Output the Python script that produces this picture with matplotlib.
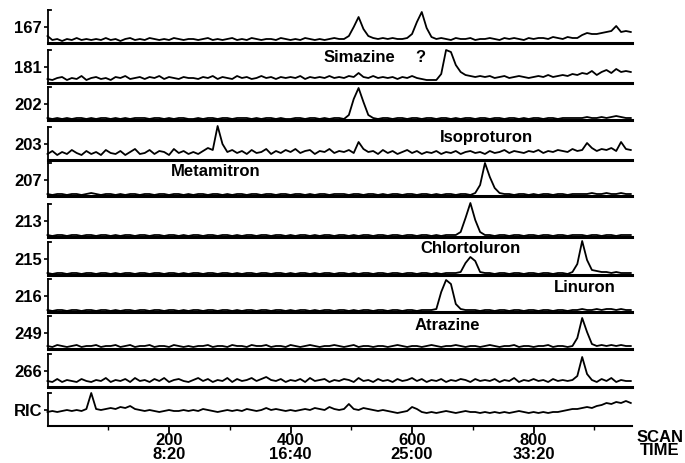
import numpy as np
import matplotlib
matplotlib.use("Agg")
import matplotlib.pyplot as plt

plt.rcParams['font.family'] = ['Liberation Sans', 'DejaVu Sans']
plt.rcParams['font.weight'] = 'bold'

# ion traces, intensity in px above panel baseline, one point every 8 scans (0..960)
panels = ['167', '181', '202', '203', '207', '213', '215', '216', '249', '266', 'RIC']

s167 = [7, 3, 4, 2, 4, 3, 5, 3, 4, 3,
        4, 3, 5, 3, 4, 2, 4, 5, 3, 4,
        3, 5, 4, 3, 4, 3, 5, 4, 3, 4,
        4, 3, 4, 5, 3, 4, 3, 4, 5, 3,
        4, 3, 5, 4, 3, 4, 4, 3, 5, 4,
        3, 4, 3, 5, 4, 3, 4, 3, 4, 5,
        4, 4, 7, 16, 26, 14, 7, 5, 4, 5,
        4, 5, 4, 4, 5, 9, 21, 31, 15, 6,
        4, 5, 4, 3, 5, 4, 4, 5, 3, 4,
        4, 5, 4, 3, 5, 4, 5, 4, 3, 5,
        4, 5, 5, 4, 6, 5, 4, 6, 5, 5,
        8, 10, 9, 9, 10, 11, 12, 17, 11, 12,
        11]

s181 = [4, 3, 5, 6, 3, 5, 4, 7, 3, 5,
        6, 4, 5, 3, 6, 5, 7, 4, 5, 6,
        4, 6, 5, 7, 4, 6, 5, 4, 6, 5,
        5, 4, 6, 5, 7, 4, 6, 5, 4, 7,
        5, 6, 4, 5, 7, 5, 6, 4, 6, 5,
        6, 5, 7, 4, 6, 5, 6, 5, 7, 5,
        6, 5, 7, 6, 10, 6, 5, 7, 5, 6,
        5, 6, 4, 6, 5, 7, 5, 4, 3, 3,
        3, 9, 33, 31, 18, 11, 8, 7, 6, 7,
        6, 7, 5, 6, 7, 5, 6, 7, 6, 5,
        6, 7, 6, 8, 6, 7, 8, 7, 9, 8,
        10, 9, 12, 8, 11, 13, 10, 14, 11, 12,
        11]

s202 = [2, 1, 2, 1, 2, 1, 2, 2, 1, 2,
        1, 2, 2, 1, 2, 1, 2, 1, 2, 2,
        2, 1, 2, 2, 1, 2, 1, 2, 2, 1,
        1, 2, 1, 2, 2, 1, 2, 2, 1, 2,
        2, 2, 1, 2, 1, 2, 2, 1, 2, 1,
        1, 2, 2, 1, 2, 2, 1, 2, 1, 2,
        2, 1, 5, 21, 32, 18, 5, 2, 1, 2,
        2, 1, 2, 2, 1, 2, 2, 1, 2, 2,
        1, 2, 2, 1, 2, 1, 2, 2, 1, 2,
        2, 1, 2, 2, 1, 2, 2, 1, 2, 1,
        2, 2, 1, 2, 2, 1, 2, 2, 2, 2,
        2, 3, 2, 2, 3, 2, 3, 4, 3, 2,
        2]

s203 = [6, 9, 5, 8, 6, 10, 7, 5, 9, 6,
        8, 5, 10, 7, 6, 9, 5, 8, 11, 6,
        7, 10, 6, 9, 8, 5, 11, 7, 9, 6,
        8, 6, 9, 12, 10, 34, 16, 8, 10, 7,
        9, 6, 10, 7, 8, 11, 6, 9, 7, 10,
        8, 11, 7, 9, 10, 6, 9, 8, 11, 7,
        9, 8, 10, 7, 18, 11, 8, 9, 6, 10,
        7, 9, 6, 8, 10, 7, 9, 6, 8, 7,
        9, 6, 8, 7, 9, 6, 8, 9, 7, 8,
        6, 9, 7, 8, 10, 7, 9, 8, 7, 9,
        8, 10, 7, 9, 8, 10, 9, 8, 11, 9,
        10, 17, 12, 9, 11, 10, 12, 9, 18, 11,
        10]

s207 = [2, 1, 2, 2, 1, 2, 2, 1, 2, 3,
        2, 1, 2, 2, 1, 2, 1, 2, 2, 1,
        2, 2, 1, 2, 2, 1, 2, 2, 1, 2,
        1, 2, 2, 1, 2, 2, 1, 2, 1, 2,
        2, 1, 2, 2, 1, 2, 2, 1, 2, 2,
        1, 2, 2, 1, 2, 1, 2, 2, 1, 2,
        2, 2, 1, 2, 2, 1, 2, 2, 1, 2,
        1, 2, 2, 1, 2, 2, 1, 2, 2, 1,
        2, 1, 2, 2, 1, 2, 2, 1, 3, 11,
        33, 19, 8, 3, 2, 2, 1, 2, 2, 1,
        2, 1, 2, 2, 1, 2, 2, 1, 2, 2,
        2, 2, 3, 2, 2, 3, 2, 2, 3, 2,
        2]

s213 = [2, 1, 2, 2, 1, 2, 2, 1, 2, 2,
        1, 2, 2, 1, 2, 1, 2, 2, 1, 2,
        2, 1, 2, 2, 1, 2, 2, 1, 2, 1,
        2, 2, 1, 2, 2, 1, 2, 2, 1, 2,
        1, 2, 2, 1, 2, 2, 1, 2, 2, 1,
        2, 1, 2, 2, 1, 2, 1, 2, 2, 1,
        2, 2, 1, 2, 1, 2, 2, 1, 2, 2,
        1, 2, 2, 1, 2, 2, 1, 2, 2, 1,
        2, 1, 2, 2, 2, 5, 19, 34, 17, 5,
        2, 2, 1, 2, 2, 1, 2, 2, 1, 2,
        2, 1, 2, 2, 1, 2, 2, 1, 2, 2,
        2, 1, 2, 2, 1, 2, 2, 1, 2, 2,
        2]

s215 = [2, 1, 2, 2, 1, 2, 2, 1, 2, 2,
        1, 2, 2, 1, 2, 1, 2, 2, 1, 2,
        2, 1, 2, 2, 1, 2, 2, 1, 2, 1,
        2, 2, 1, 2, 2, 1, 2, 2, 1, 2,
        1, 2, 2, 1, 2, 2, 1, 2, 2, 1,
        2, 1, 2, 2, 1, 2, 1, 2, 2, 1,
        2, 2, 1, 2, 1, 2, 2, 1, 2, 2,
        1, 2, 2, 1, 2, 2, 1, 2, 2, 1,
        2, 1, 2, 2, 2, 3, 12, 18, 14, 3,
        2, 2, 1, 2, 2, 1, 2, 2, 1, 2,
        2, 1, 2, 2, 1, 2, 2, 1, 3, 11,
        34, 15, 5, 4, 3, 3, 2, 3, 2, 2,
        2]

s216 = [2, 1, 2, 2, 1, 2, 2, 1, 2, 2,
        1, 2, 2, 1, 2, 1, 2, 2, 1, 2,
        2, 1, 2, 2, 1, 2, 2, 1, 2, 1,
        2, 2, 1, 2, 2, 1, 2, 2, 1, 2,
        1, 2, 2, 1, 2, 2, 1, 2, 2, 1,
        2, 1, 2, 2, 1, 2, 1, 2, 2, 1,
        2, 2, 1, 2, 1, 2, 2, 1, 2, 2,
        1, 2, 2, 1, 2, 2, 1, 2, 2, 2,
        3, 20, 32, 28, 8, 3, 2, 2, 2, 1,
        2, 2, 1, 2, 2, 1, 2, 2, 1, 2,
        2, 1, 2, 2, 1, 2, 2, 1, 2, 2,
        3, 2, 2, 3, 2, 3, 3, 2, 3, 2,
        2]

s249 = [3, 2, 4, 3, 2, 3, 4, 2, 3, 3,
        4, 2, 3, 3, 4, 2, 3, 4, 2, 3,
        3, 4, 2, 3, 3, 2, 4, 3, 2, 3,
        2, 3, 3, 4, 2, 3, 3, 2, 4, 3,
        3, 2, 4, 3, 3, 4, 2, 3, 3, 2,
        4, 3, 2, 3, 4, 3, 2, 3, 3, 4,
        3, 2, 3, 4, 2, 3, 3, 2, 3, 3,
        2, 3, 4, 3, 2, 3, 3, 2, 3, 4,
        3, 2, 3, 3, 4, 3, 2, 3, 3, 2,
        3, 4, 3, 2, 3, 3, 4, 2, 3, 3,
        2, 3, 3, 4, 2, 3, 3, 2, 3, 11,
        31, 17, 5, 3, 4, 3, 4, 3, 4, 3,
        3]

s266 = [6, 5, 8, 5, 7, 6, 5, 8, 6, 5,
        7, 6, 9, 5, 7, 6, 8, 5, 9, 6,
        7, 5, 8, 6, 9, 5, 7, 8, 6, 5,
        7, 9, 6, 8, 5, 7, 6, 9, 5, 8,
        6, 7, 9, 6, 8, 10, 7, 6, 8, 5,
        7, 6, 8, 5, 9, 6, 7, 8, 5, 7,
        6, 8, 7, 5, 9, 6, 7, 5, 8, 6,
        7, 5, 8, 6, 7, 9, 6, 8, 5, 7,
        6, 8, 5, 7, 6, 8, 7, 5, 8, 6,
        7, 6, 8, 5, 7, 6, 9, 5, 7, 6,
        8, 6, 7, 5, 8, 6, 7, 6, 7, 11,
        30, 13, 7, 5, 8, 6, 9, 5, 7, 6,
        6]

ric = [14, 15, 14, 15, 16, 15, 16, 15, 17, 33,
       17, 16, 17, 18, 17, 19, 18, 20, 17, 16,
       15, 16, 15, 14, 15, 16, 15, 15, 16, 15,
       16, 15, 17, 16, 15, 14, 15, 16, 15, 16,
       15, 17, 16, 15, 16, 18, 16, 17, 16, 15,
       16, 15, 16, 17, 16, 18, 17, 16, 19, 17,
       16, 17, 22, 17, 16, 18, 17, 16, 15, 16,
       15, 14, 13, 14, 15, 19, 17, 14, 13, 14,
       13, 14, 15, 14, 13, 14, 15, 14, 14, 13,
       14, 13, 14, 13, 14, 13, 14, 15, 14, 13,
       14, 13, 14, 13, 14, 14, 15, 16, 17, 17,
       18, 19, 18, 20, 21, 23, 22, 24, 23, 25,
       23]

traces = [s167, s181, s202, s203, s207, s213, s215, s216, s249, s266, ric]

scan_ticks = [200, 400, 600, 800]
time_labels = ['8:20', '16:40', '25:00', '33:20']

# compound labels: (text, x px, y px)
compounds = [('Simazine', 359, 57), ('?', 420, 57), ('Isoproturon', 486, 137),
             ('Metamitron', 216, 172), ('Chlortoluron', 470, 248),
             ('Linuron', 585, 288), ('Atrazine', 447, 326)]

W, H = 685, 463
baselines = [43, 83, 120, 160, 196, 237, 275, 312, 349, 387, 426]
ph = 33
x0, x1 = 47.5, 632
fs = 12

fig = plt.figure(figsize=(W / 100, H / 100), dpi=100)

for i, name in enumerate(panels):
    base = baselines[i]
    ax = fig.add_axes([x0 / W, 1 - base / H, (x1 - x0) / W, ph / H])
    ax.set_xlim(0, 962)
    ax.set_ylim(0, ph)
    x = np.linspace(0, 960, len(traces[i]))
    ax.plot(x, traces[i], color='k', lw=1.3, clip_on=False)
    for s in ['top', 'right']:
        ax.spines[s].set_visible(False)
    ax.spines['left'].set_linewidth(1.3)
    ax.spines['bottom'].set_linewidth(2.2)
    ax.plot([0, 5], [ph, ph], color='k', lw=1.3, clip_on=False)
    ax.set_yticks([16])
    ax.set_yticklabels([name], fontsize=fs, fontweight='bold')
    ax.tick_params(axis='y', length=3, width=1.2, pad=1)
    if name == 'RIC':
        ax.spines['bottom'].set_linewidth(1.5)
        ax.set_xticks(scan_ticks, labels=[f'{s}\n{t}' for s, t in zip(scan_ticks, time_labels)])
        ax.set_xticks([100, 300, 500, 700, 900], minor=True)
        ax.tick_params(axis='x', which='major', length=5, width=1.3, pad=0, labelsize=fs)
        ax.tick_params(axis='x', which='minor', length=3, width=1.0)
        for t in ax.get_xticklabels():
            t.set_linespacing(0.9)
            t.set_fontweight('bold')
    else:
        ax.set_xticks([])

for text, px, py in compounds:
    fig.text(px / W, 1 - py / H, text, ha='center', va='center', fontsize=fs, fontweight='bold')

fig.text(660 / W, 1 - 444 / H, 'SCAN\nTIME', ha='center', va='center', multialignment='center',
         fontsize=fs, fontweight='bold', linespacing=0.9)

fig.savefig('out.png', dpi=100)
